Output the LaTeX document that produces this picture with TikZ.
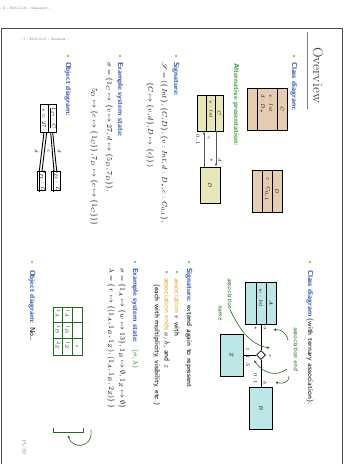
\documentclass[tikz,border=0pt]{standalone}
\usepackage{amsmath,amssymb,mathrsfs}
\usetikzlibrary{shapes.geometric,arrows.meta}
\definecolor{hblue}{HTML}{2B4FB0}
\definecolor{bgreen}{HTML}{6AAF6A}
\definecolor{altgreen}{HTML}{3A9A3A}
\definecolor{hand}{HTML}{1E6B1E}
\definecolor{tanf}{HTML}{E6CDB2}
\definecolor{ylw}{HTML}{E6E6B9}
\definecolor{cyn}{HTML}{BDE6E6}
\definecolor{orng}{HTML}{D9A526}
\tikzset{
 rt/.style={rotate=-90, inner sep=0pt, outer sep=0pt},
 txt/.style={rt, anchor=west, font=\sffamily\fontsize{7.3}{8}\selectfont},
 mth/.style={rt, anchor=west, font=\fontsize{6.6}{8}\selectfont},
 hd/.style={txt, font=\sffamily\bfseries\fontsize{7.3}{8}\selectfont, text=hblue},
 bdot/.style={circle, fill=bgreen, inner sep=0pt, minimum size=2.4pt},
 cls/.style={draw=black, line width=0.8pt, inner sep=0pt},
 cmp/.style={rt, font=\fontsize{5.5}{6}\selectfont},
 cmpa/.style={cmp, anchor=west},
 lbl/.style={rt, font=\fontsize{4}{5}\selectfont},
 hw/.style={draw=hand, line width=0.6pt},
 hwt/.style={rt, anchor=west, text=hand, font=\sffamily\itshape\fontsize{6.5}{7}\selectfont},
 cell/.style={rt, text=hand, font=\sffamily\bfseries\fontsize{4.5}{5}\selectfont},
 htip/.style={-{Latex[length=3pt,width=2.6pt]}},
 smalltxt/.style={anchor=west, inner sep=0pt, text=black!50, font=\sffamily\fontsize{3.5}{4}\selectfont},
}
\begin{document}
\begin{tikzpicture}[x=1pt,y=-1pt]
\useasboundingbox (0,0) rectangle (346,464);
\fill[white] (0,0) rectangle (346,464);
% frame
\draw[black!70, line width=0.9pt] (1.5,470) -- (1.5,28) -- (342,28) -- (342,470);
\node[smalltxt] (hdr1) at (0,8) {-- 8 -- 2016-11-24 -- Sassocend --};
\node[smalltxt] (hdr2) at (20,40) {-- 7 -- 2016-11-17 -- Sexample --};
% title
\node[rt, font=\fontsize{14}{16}\selectfont, text=black!70] (title) at (318,75) {Overview};
\draw[black!50, line width=0.9pt] (307,32) -- (307,109);

% ---- left column (top half) ----
\node[bdot] (d1) at (294,56) {};
\node[hd] (t1) at (294,62) {Class diagram:};
% tan classes
\node[cls, fill=tanf, minimum width=40pt, minimum height=42pt] (C1) at (267,109) {};
\draw[line width=0.8pt] (257,88) -- (257,130) (277,88) -- (277,130);
\node[cmp] (C1n) at (282,109) {$C$};
\node[cmpa] (C1a) at (271,94) {$v : \mathit{Int}$};
\node[cmpa] (C1b) at (262.5,94) {$d : D_{*}$};
\node[cls, fill=tanf, minimum width=30pt, minimum height=42pt] (D1) at (267,191) {};
\draw[line width=0.8pt] (262,170) -- (262,212) (272,170) -- (272,212);
\node[cmp] (D1n) at (277,191) {$D$};
\node[cmpa] (D1a) at (267,177) {$c : C_{0,1}$};

\node[txt, font=\sffamily\bfseries\fontsize{7.3}{8}\selectfont, text=altgreen] (alt) at (236,63) {Alternative presentation:};

% alternative classes
\node[cls, fill=ylw, minimum width=26pt, minimum height=36pt] (C2) at (210,113) {};
\draw[line width=0.8pt] (206.7,95) -- (206.7,131) (215,95) -- (215,131);
\node[cmp] (C2n) at (219,113) {$C$};
\node[cmpa] (C2a) at (211,100) {$v : \mathit{Int}$};
\node[cls, fill=ylw, minimum width=20pt, minimum height=36pt] (D2) at (210,185) {};
\node[cmp] (D2n) at (210,185) {$D$};
\draw[black!65, line width=0.9pt, htip] ([xshift=6pt]C2.south) -- ([xshift=6pt]D2.north);
\draw[black!65, line width=0.9pt, htip] ([xshift=-6pt]D2.north) -- ([xshift=-6pt]C2.south);
\node[lbl] (lc) at (209,138) {$c$};
\node[lbl] (l01) at (197.5,140) {$0,1$};
\node[lbl] (ls) at (211.5,160) {$*$};
\node[lbl] (ld) at (220,160) {$d$};

\node[bdot] (d2) at (176,56) {};
\node[hd] (t2) at (176,62) {Signature:};
\node[mth] (sig1) at (164,62) {$\mathscr{S} = (\{\mathit{Int}\}, \{C, D\}, \{v : \mathit{Int}, d : D_{*}, c : C_{0,1}\},$};
\node[mth] (sig2) at (150,82) {$\{C \mapsto \{v, d\}, D \mapsto \{c\}\})$};

\node[bdot] (d3) at (120,56) {};
\node[hd] (t3) at (120,62) {Example system state:};
\node[mth] (sg1) at (109,62) {$\sigma = \{1_C \mapsto \{v \mapsto 27, d \mapsto \{5_D, 7_D\}\},$};
\node[mth] (sg2) at (94,88) {$5_D \mapsto \{c \mapsto \{1_C\}\}, 7_D \mapsto \{c \mapsto \{1_C\}\}\}$};

\node[bdot] (d4) at (68,56) {};
\node[hd] (t4) at (68,62) {Object diagram:};
% objects
\node[cls, minimum width=16.7pt, minimum height=28pt] (o1) at (48.35,118) {};
\draw[line width=0.8pt] (48.3,104) -- (48.3,132);
\node[cmp] (o1n) at (52.5,118) {$\underline{1_C : C}$};
\node[cmp] (o1a) at (44,118) {$v = 27$};
\node[cls, minimum width=9pt, minimum height=19pt] (o5) at (56.2,181) {};
\node[cmp] (o5n) at (56.2,181) {$\underline{5_D : D}$};
\node[cls, minimum width=8.4pt, minimum height=19pt] (o7) at (41.5,181) {};
\node[cmp] (o7n) at (41.5,181) {$\underline{7_D : D}$};
\draw[line width=0.9pt] ([xshift=-4.35pt]o1.south) -- ([xshift=-2.2pt]o7.north);
\draw[line width=0.9pt] ([xshift=-1.65pt]o1.south) -- ([xshift=0.5pt]o7.north);
\draw[line width=0.9pt] ([xshift=2.35pt]o1.south) -- ([xshift=-2.2pt]o5.north);
\draw[line width=0.9pt] ([xshift=4.35pt]o1.south) -- ([xshift=0.5pt]o5.north);
\node[lbl] (od1) at (36.7,151) {$d$};
\node[lbl] (oc) at (48.5,151) {$c$};
\node[lbl] (od2) at (59.5,151) {$d$};

% ---- right column (bottom half) ----
\node[bdot] (e1) at (310,262) {};
\node[txt] (u1) at (310,270) {{\bfseries\color{hblue}Class diagram} (with ternary association):};
\node[cls, fill=cyn, minimum width=31pt, minimum height=42pt] (A) at (261,303) {};
\draw[line width=0.8pt] (256,282) -- (256,324) (266,282) -- (266,324);
\node[cmp] (An) at (271,303) {$A$};
\node[cmpa] (Aa) at (261,288) {$w : \mathit{Int}$};
\node[cls, fill=cyn, minimum width=23pt, minimum height=42pt] (Z) at (231.5,355) {};
\node[cmp] (Zn) at (231.5,355) {$Z$};
\node[cls, fill=cyn, minimum width=23pt, minimum height=42pt] (B) at (261,408) {};
\node[cmp] (Bn) at (261,408) {$B$};
\node[diamond, draw, fill=white, line width=0.8pt, minimum size=9pt, inner sep=0pt] (dia) at (261,355) {};
\draw[line width=0.8pt] (A.south) -- (dia.north);
\draw[line width=0.8pt] (dia.south) -- (B.north);
\draw[line width=0.8pt] (dia.west) -- (Z.east);
\node[lbl] (la) at (265,328) {$a$};
\node[lbl] (las) at (255.5,328) {$*$};
\node[lbl] (lr) at (270,356) {$r$};
\node[lbl] (lz) at (247.7,349.5) {$z$};
\node[lbl, anchor=west] (lz5) at (247.7,355.5) {$1..5$};
\node[lbl] (lb) at (265,383) {$b$};
\node[lbl] (lb01) at (255,379) {$0,1$};
% handwriting
\node[hwt] (hn1) at (230,278) {association};
\node[hwt] (hn2) at (220,305) {name};
\draw[hw, htip] (hn1.east) .. controls (244,340) and (258,346) .. (270,348);
\node[hwt] (he) at (296,327) {association end};
\coordinate (ea) at (288,340);
\coordinate (eb) at (289,376);
\coordinate (ez) at (287,369);
\draw[hw, htip] (ea) .. controls (286,332) and (280,329) .. (273,330);
\draw[hw, htip] (eb) .. controls (289,383) and (282,384) .. (275,382);
\draw[hw, htip] (ez) .. controls (275,378) and (262,372) .. (254,360);

\node[bdot] (e2) at (189,262) {};
\node[txt] (u2) at (189,268) {{\bfseries\color{hblue}Signature:} extend again to represent};
\node[bdot] (e3) at (177,272) {};
\node[txt] (u3) at (177,278) {{\color{orng}association} $r$ with};
\node[bdot] (e4) at (166.7,272) {};
\node[txt] (u4) at (166.7,278) {{\color{orng}association ends} $a$, $b$, and $z$};
\node[txt] (u5) at (156.7,284) {(each with multiplicity, visibility, etc.)};

\node[bdot] (e5) at (135,262) {};
\node[txt] (u6) at (135,268) {{\bfseries\color{hblue}Example system state:}};
\node[hwt, font=\sffamily\bfseries\fontsize{7}{8}\selectfont] (sl) at (135,349) {$(\sigma, \lambda)$};
\node[mth] (s2) at (122,268) {$\sigma = \{1_A \mapsto \{w \mapsto 13\}, 1_B \mapsto \emptyset, 1_Z \mapsto \emptyset\}$};
\node[mth] (l2) at (111,268) {$\lambda = \{\, r \mapsto \{(1_A, 1_B, 1_Z), (1_A, 1_B, 2_Z)\}\,\}$};
% handwritten table
\draw[hw, line width=0.7pt] (53,307) rectangle (82,355);
\draw[hw, line width=0.7pt] (62.7,307) -- (62.7,355) (72.3,307) -- (72.3,355)
  (53,322) -- (82,322) (53,338) -- (82,338);
\node[cell] (c13) at (77,346) {$z$};
\node[cell] (c21) at (67.5,314) {$1_A$};
\node[cell] (c22) at (67.5,330) {$1_B$};
\node[cell] (c23) at (67.5,346) {$1_Z$};
\node[cell] (c31) at (58,314) {$1_A$};
\node[cell] (c32) at (58,330) {$1_B$};
\node[cell] (c33) at (58,346) {$2_Z$};
% bracket and arrow
\draw[hw] (53,428) -- (53,432) -- (83,432) -- (83,428);
\coordinate (lend) at (91,430);
\draw[hw, htip] (lend) .. controls (93,449) and (72,449) .. (68,435);

\node[bdot] (e6) at (32,262) {};
\node[txt] (u7) at (32,270) {{\bfseries\color{hblue}Object diagram:} No\dots};
\node[rt, text=black!45, font=\sffamily\fontsize{5.5}{6}\selectfont] (pg) at (24,447) {15/30};
\end{tikzpicture}
\end{document}
